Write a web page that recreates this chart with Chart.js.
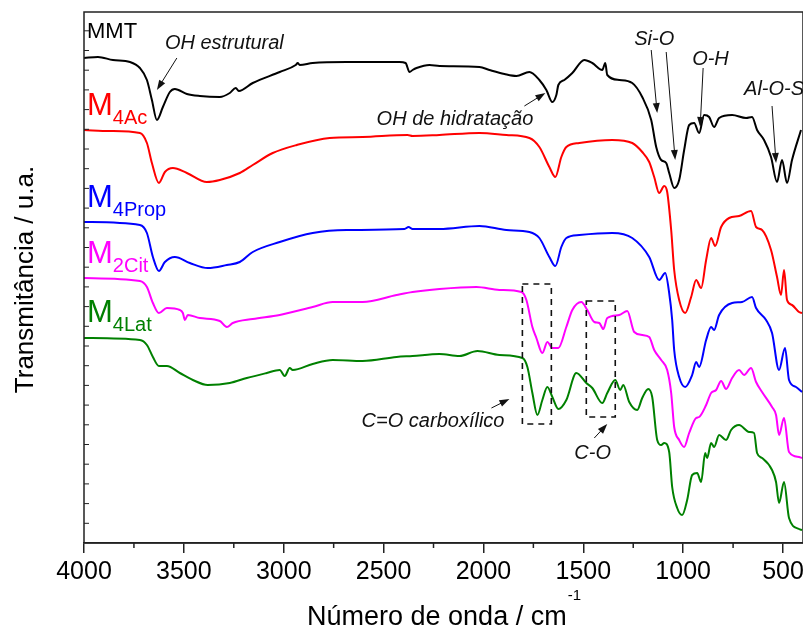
<!DOCTYPE html>
<html>
<head>
<meta charset="utf-8">
<script src="https://cdn.jsdelivr.net/npm/chart.js@4/dist/chart.umd.min.js"></script>
<style>
  body { margin: 0; background: #fff; }
  #wrap { width: 803px; height: 629px; }
</style>
</head>
<body>
<div id="wrap"><canvas id="ftir" width="803" height="629"></canvas></div>
<script>
// FTIR spectra, wavenumber (cm-1) vs transmittance (arbitrary units, curves offset)
const mmtWave = [4000,3930,3855,3770,3720,3685,3660,3635,3605,3570,3545,3485,3420,3320,3270,3240,3225,3155,3020,2940,2930,2920,2855,2685,2420,2390,2370,2355,2335,2270,2220,2020,1970,1895,1835,1770,1720,1685,1655,1635,1625,1595,1555,1495,1455,1405,1390,1380,1320,1255,1205,1160,1135,1110,1085,1070,1045,1020,995,970,945,920,895,870,845,820,755,685,655,630,595,560,530,505,480,455,410];
const mmtT    = [485,486,483,481,475,463,443,423,436,451,454,449,447,446,450,455,452,460,471,478,480,478,480,481,481,480,471,473,475,478,477,476,473,469,467,471,463,453,441,448,458,463,470,483,480,473,480,468,463,460,446,423,396,383,380,370,355,363,393,418,420,410,428,426,416,425,428,425,426,413,403,386,361,383,360,383,413];

const acWave = [4000,3870,3720,3685,3660,3625,3595,3555,3485,3385,3320,3220,3155,3055,2935,2770,2605,2380,2355,2220,2020,1885,1770,1720,1670,1640,1610,1585,1520,1355,1255,1205,1170,1145,1120,1095,1080,1060,1045,1020,990,960,935,910,885,860,840,810,770,720,660,635,605,560,530,510,495,480,455,420,405];
const acT    = [413,412,410,400,380,360,371,375,370,361,363,370,378,390,398,405,406,408,407,408,410,408,405,396,376,366,386,396,400,403,400,391,381,366,350,357,351,313,273,243,230,246,263,255,283,305,297,316,325,327,332,316,313,293,266,248,273,243,238,231,230];

const propWave = [4000,3720,3685,3655,3625,3595,3545,3470,3380,3285,3220,3155,3020,2855,2685,2395,2375,2355,2220,2020,1885,1770,1720,1670,1640,1610,1585,1520,1355,1255,1170,1120,1090,1070,1055,1045,1020,990,955,935,920,885,860,845,820,755,705,655,635,585,555,520,490,470,435,405];
const propT    = [321,318,310,286,272,281,286,280,275,278,281,291,301,310,313,314,316,314,314,317,313,311,305,286,277,296,305,308,310,305,286,263,270,250,223,193,166,156,168,181,176,203,216,213,228,240,241,246,235,223,210,173,195,163,156,151];

const citWave = [4000,3720,3685,3655,3625,3585,3520,3505,3495,3480,3420,3320,3285,3255,3155,3020,2855,2755,2605,2435,2355,2220,2035,1920,1810,1785,1755,1735,1705,1680,1655,1625,1585,1555,1510,1480,1445,1420,1400,1380,1320,1280,1245,1205,1170,1145,1110,1080,1060,1045,1020,995,970,935,920,885,860,835,810,785,755,720,695,660,635,605,555,535,520,495,470,420,405];
const citT    = [265,262,256,240,230,235,233,230,223,228,225,222,216,220,224,228,236,241,241,248,251,254,256,253,251,243,216,205,190,201,195,195,216,233,241,233,221,220,214,225,228,232,211,208,206,193,183,173,150,116,103,96,110,125,126,138,150,153,162,154,165,173,168,175,161,151,136,128,108,125,91,86,85];

const latWave = [4000,3720,3685,3655,3625,3585,3520,3455,3380,3270,3185,3085,3020,2995,2970,2955,2855,2755,2605,2435,2355,2220,2120,2030,1920,1805,1780,1755,1730,1705,1680,1655,1625,1585,1535,1485,1455,1405,1380,1340,1315,1300,1270,1230,1205,1175,1155,1130,1110,1095,1070,1055,1030,1005,980,955,930,910,890,880,860,845,820,785,760,720,670,645,630,605,555,535,520,495,470,420,405];
const latT    = [205,203,198,186,177,177,170,163,158,160,165,170,173,167,175,173,179,183,182,186,187,189,187,192,188,185,176,150,128,143,156,146,134,143,170,160,155,140,150,163,153,158,141,133,145,154,146,103,98,100,91,56,35,28,43,68,70,61,90,85,100,96,108,103,113,118,111,110,90,85,73,61,40,61,25,14,13];

const seriesNames  = ['MMT', 'M4Ac', 'M4Prop', 'M2Cit', 'M4Lat'];
const seriesColors = ['#000000', '#ff0000', '#0000ff', '#ff00ff', '#008000'];
const xTickLabels  = [4000, 3500, 3000, 2500, 2000, 1500, 1000, 500];

// sample labels: main letter + subscript, anchored in data units
const sampleLabels = [
  { main: 'MMT', sub: '',     wave: 3985, t: 505, size: 22 },
  { main: 'M',   sub: '4Ac',  wave: 3985, t: 428, size: 31 },
  { main: 'M',   sub: '4Prop',wave: 3985, t: 336, size: 31 },
  { main: 'M',   sub: '2Cit', wave: 3985, t: 280, size: 31 },
  { main: 'M',   sub: '4Lat', wave: 3985, t: 221, size: 31 }
];

// band assignments with arrows
const bandNotes = [
  { text: 'OH estrutural',     wave: 3595, t: 494, arrows: [[3535, 485, 3635, 453]] },
  { text: 'OH de hidratação',  wave: 2535, t: 418, arrows: [[1795, 437, 1690, 450]] },
  { text: 'Si-O',              wave: 1245, t: 498, arrows: [[1160, 493, 1130, 430], [1085, 491, 1040, 383]] },
  { text: 'O-H',               wave: 955,  t: 478, arrows: [[900, 475, 915, 416]] },
  { text: 'Al-O-Si',           wave: 695,  t: 448, arrows: [[555, 437, 535, 380]] },
  { text: 'C=O carboxílico',   wave: 2610, t: 116, arrows: [[1960, 135, 1870, 144]] },
  { text: 'C-O',               wave: 1545, t: 84,  arrows: [[1445, 105, 1380, 119]] }
];

// dashed boxes around the carboxylate regions [waveLeft, tTop, waveRight, tBottom]
const bandBoxes = [
  [1805, 259, 1660, 119],
  [1485, 242, 1340, 126]
];

const FONT = '"Liberation Sans", Arial, Helvetica, sans-serif';

function toPoints(w, t) {
  return w.map((x, i) => ({ x: x, y: t[i] }));
}

const waves = [mmtWave, acWave, propWave, citWave, latWave];
const values = [mmtT, acT, propT, citT, latT];

const datasets = seriesNames.map((name, i) => ({
  label: name,
  data: toPoints(waves[i], values[i]),
  borderColor: seriesColors[i],
  borderWidth: 2,
  pointRadius: 0,
  fill: false,
  cubicInterpolationMode: 'monotone'
}));

function drawArrow(ctx, x1, y1, x2, y2) {
  const ang = Math.atan2(y2 - y1, x2 - x1);
  const len = 10, half = 3.5;
  ctx.beginPath();
  ctx.moveTo(x1, y1);
  ctx.lineTo(x2 - Math.cos(ang) * len * 0.8, y2 - Math.sin(ang) * len * 0.8);
  ctx.stroke();
  ctx.beginPath();
  ctx.moveTo(x2, y2);
  ctx.lineTo(x2 - Math.cos(ang) * len - Math.sin(ang) * half, y2 - Math.sin(ang) * len + Math.cos(ang) * half);
  ctx.lineTo(x2 - Math.cos(ang) * len + Math.sin(ang) * half, y2 - Math.sin(ang) * len - Math.cos(ang) * half);
  ctx.closePath();
  ctx.fill();
}

const decorations = {
  id: 'decorations',
  afterDraw(chart) {
    const ctx = chart.ctx;
    const xs = chart.scales.x, ys = chart.scales.y;
    const area = chart.chartArea;
    ctx.save();

    // frame
    ctx.strokeStyle = '#222';
    ctx.lineWidth = 1.5;
    ctx.strokeRect(area.left, area.top, area.right - area.left, area.bottom - area.top);

    // minor ticks on the wavenumber axis
    ctx.beginPath();
    for (let w = 3750; w > 400; w -= 500) {
      const px = xs.getPixelForValue(w);
      ctx.moveTo(px, area.bottom);
      ctx.lineTo(px, area.bottom + 5);
    }
    ctx.stroke();

    // inner ticks on the transmittance axis
    ctx.lineWidth = 1;
    ctx.beginPath();
    for (let t = 19.7; t < ys.max; t += 19.7) {
      const py = ys.getPixelForValue(t);
      ctx.moveTo(area.left, py);
      ctx.lineTo(area.left + 5, py);
    }
    ctx.stroke();

    // sample labels
    ctx.textBaseline = 'alphabetic';
    ctx.textAlign = 'left';
    sampleLabels.forEach((l, i) => {
      ctx.fillStyle = seriesColors[i];
      const x = xs.getPixelForValue(l.wave);
      const y = ys.getPixelForValue(l.t);
      ctx.font = l.size + 'px ' + FONT;
      ctx.fillText(l.main, x, y);
      if (l.sub) {
        const w = ctx.measureText(l.main).width;
        ctx.font = '20px ' + FONT;
        ctx.fillText(l.sub, x + w, y + 9);
      }
    });

    // band assignments
    ctx.fillStyle = '#111';
    ctx.strokeStyle = '#111';
    ctx.lineWidth = 1;
    ctx.font = 'italic 20px ' + FONT;
    bandNotes.forEach(n => {
      ctx.fillText(n.text, xs.getPixelForValue(n.wave), ys.getPixelForValue(n.t));
      n.arrows.forEach(a => {
        drawArrow(ctx, xs.getPixelForValue(a[0]), ys.getPixelForValue(a[1]),
                  xs.getPixelForValue(a[2]), ys.getPixelForValue(a[3]));
      });
    });

    // dashed boxes
    ctx.setLineDash([6, 5]);
    ctx.lineWidth = 1.6;
    bandBoxes.forEach(b => {
      const x1 = xs.getPixelForValue(b[0]), y1 = ys.getPixelForValue(b[1]);
      const x2 = xs.getPixelForValue(b[2]), y2 = ys.getPixelForValue(b[3]);
      ctx.strokeRect(x1, y1, x2 - x1, y2 - y1);
    });
    ctx.setLineDash([]);

    // axis titles
    ctx.fillStyle = '#000';
    const main = 'Número de onda / cm';
    const sup = '-1';
    ctx.font = '27px ' + FONT;
    const mw = ctx.measureText(main).width;
    ctx.font = '15px ' + FONT;
    const sw = ctx.measureText(sup).width;
    const cx = (area.left + area.right) / 2;
    const startX = cx - (mw + sw) / 2;
    ctx.font = '27px ' + FONT;
    ctx.fillText(main, startX, 625);
    ctx.font = '15px ' + FONT;
    ctx.fillText(sup, startX + mw + 1, 600);

    ctx.translate(33, (area.top + area.bottom) / 2 + 2);
    ctx.rotate(-Math.PI / 2);
    ctx.textAlign = 'center';
    ctx.font = '26px ' + FONT;
    ctx.fillText('Transmitância / u.a.', 0, 0);
    ctx.restore();
  }
};

new Chart(document.getElementById('ftir'), {
  type: 'line',
  data: { datasets: datasets },
  options: {
    responsive: false,
    animation: false,
    layout: { padding: { left: 84, top: 12, right: 0, bottom: 0 } },
    plugins: { legend: { display: false }, tooltip: { enabled: false } },
    scales: {
      x: {
        type: 'linear',
        reverse: true,
        min: 400,
        max: 4000,
        afterBuildTicks: s => { s.ticks = xTickLabels.map(v => ({ value: v })); },
        afterFit: s => { s.height = 86; s.paddingLeft = 0; s.paddingRight = 0; },
        grid: { drawOnChartArea: false, drawTicks: true, tickLength: 10, color: '#222', lineWidth: 1.5 },
        border: { display: true, color: '#222', width: 1.5 },
        ticks: {
          color: '#000',
          padding: 4,
          maxRotation: 0,
          font: { family: FONT, size: 25 },
          callback: v => String(v)
        }
      },
      y: {
        display: false,
        min: 0,
        max: 531
      }
    }
  },
  plugins: [decorations]
});
</script>
</body>
</html>
